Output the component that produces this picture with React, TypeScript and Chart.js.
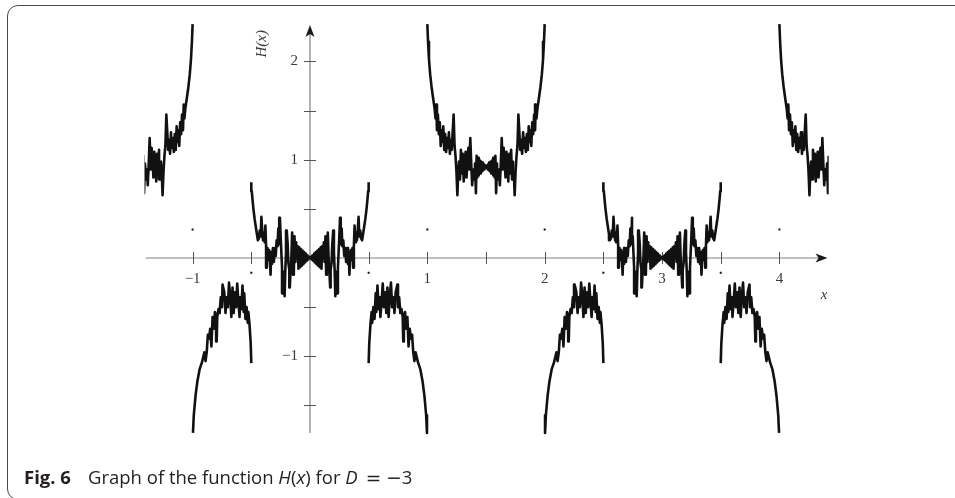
import React, { useEffect, useRef } from "react";
import { Chart, registerables } from "chart.js";

Chart.register(...registerables);

// Branch on (0, 0.5): bow-tie at the origin, jagged rise to ~0.77
const riseBranch: [number, number][] = [
  [0, 0], [0.008, 0.012], [0.014, -0.014], [0.022, 0.028], [0.028, -0.03], [0.036, 0.045],
  [0.042, -0.046], [0.05, 0.06], [0.056, -0.062], [0.064, 0.076], [0.07, -0.078], [0.078, 0.092],
  [0.084, -0.094], [0.092, 0.108], [0.098, -0.11], [0.104, 0.12], [0.11, 0.02], [0.118, 0.16],
  [0.124, -0.04], [0.132, 0.22], [0.138, -0.17], [0.144, 0.04], [0.152, 0.26], [0.158, 0.02],
  [0.164, -0.1], [0.172, -0.3], [0.176, -0.12], [0.184, -0.05], [0.19, 0.14], [0.198, 0.28],
  [0.204, 0.06], [0.21, -0.12], [0.216, -0.39], [0.224, -0.14], [0.232, -0.36], [0.238, -0.1],
  [0.244, 0.06], [0.25, 0.22], [0.256, 0.41], [0.262, 0.14], [0.27, 0.3], [0.276, 0.12],
  [0.284, 0.18], [0.292, 0.02], [0.3, 0.1], [0.308, -0.04], [0.316, 0.1], [0.324, -0.06],
  [0.33, 0.06], [0.336, -0.17], [0.342, 0.0], [0.348, 0.08], [0.356, -0.02], [0.362, 0.1],
  [0.368, -0.1], [0.374, 0.12], [0.38, 0.33], [0.386, 0.16], [0.392, 0.26], [0.4, 0.18],
  [0.408, 0.3], [0.414, 0.42], [0.42, 0.22], [0.428, 0.28], [0.436, 0.2], [0.444, 0.18],
  [0.452, 0.24], [0.462, 0.32], [0.472, 0.4], [0.482, 0.5], [0.49, 0.6], [0.496, 0.68], [0.5, 0.77],
];
// Branch on (0.5, 1): arch below the axis, falling to the pole at x = 1
const archBranch: [number, number][] = [
  [0.5, -1.07], [0.505, -0.87], [0.515, -0.68], [0.525, -0.55], [0.53, -0.66], [0.54, -0.5],
  [0.55, -0.62], [0.56, -0.36], [0.565, -0.55], [0.575, -0.28], [0.585, -0.52], [0.595, -0.4],
  [0.6, -0.6], [0.61, -0.45], [0.62, -0.26], [0.63, -0.5], [0.64, -0.35], [0.65, -0.56],
  [0.66, -0.3], [0.67, -0.6], [0.68, -0.38], [0.69, -0.25], [0.7, -0.5], [0.71, -0.4],
  [0.72, -0.56], [0.73, -0.35], [0.745, -0.27], [0.75, -0.5], [0.76, -0.4], [0.77, -0.56],
  [0.78, -0.52], [0.79, -0.6], [0.795, -0.85], [0.8, -0.6], [0.81, -0.55], [0.82, -0.72],
  [0.83, -0.6], [0.84, -0.9], [0.85, -0.72], [0.86, -0.82], [0.87, -0.78], [0.88, -0.96],
  [0.89, -1.05], [0.9, -0.96], [0.92, -1.06], [0.94, -1.13], [0.96, -1.26], [0.975, -1.4],
  [0.99, -1.6], [0.997, -1.78],
];
// Branch on (1, 1.5): from the pole at x = 1 down to the cross at (1.5, 0.92)
const poleBranch: [number, number][] = [
  [1.0, 2.38], [1.006, 2.2], [1.014, 2.02], [1.024, 1.87], [1.036, 1.74], [1.05, 1.62],
  [1.062, 1.52], [1.07, 1.42], [1.076, 1.56], [1.082, 1.3], [1.09, 1.46], [1.098, 1.26],
  [1.106, 1.38], [1.114, 1.14], [1.12, 1.3], [1.128, 1.18], [1.136, 1.34], [1.144, 1.1],
  [1.152, 1.26], [1.16, 1.08], [1.168, 1.22], [1.176, 1.12], [1.184, 1.28], [1.192, 1.06],
  [1.2, 1.2], [1.208, 1.1], [1.216, 1.28], [1.224, 1.46], [1.232, 1.14], [1.24, 1.04],
  [1.248, 0.88], [1.256, 0.64], [1.262, 0.84], [1.27, 0.98], [1.278, 0.8], [1.286, 1.1],
  [1.294, 0.86], [1.302, 1.06], [1.31, 0.78], [1.318, 0.96], [1.326, 1.08], [1.334, 0.82],
  [1.342, 1.0], [1.35, 1.12], [1.358, 0.9], [1.366, 1.22], [1.374, 0.96], [1.382, 0.74],
  [1.39, 0.9], [1.398, 0.8], [1.406, 0.96], [1.414, 0.66], [1.42, 1.04], [1.426, 0.82],
  [1.432, 1.02], [1.438, 0.84], [1.444, 1.0], [1.45, 0.86], [1.456, 0.985], [1.462, 0.875],
  [1.468, 0.97], [1.474, 0.89], [1.48, 0.955], [1.486, 0.9], [1.492, 0.94], [1.5, 0.92],
];
const PERIOD = 3;
// isolated points of the graph
const dotX = [-1, 1, 2, 4, -0.5, 0.5, 2.5, 3.5];
const dotY = [0.29, 0.29, 0.29, 0.29, -0.15, -0.15, -0.15, -0.15];
// axes
const xTicks = [-1, -0.5, 0.5, 1, 1.5, 2, 2.5, 3, 3.5, 4];
const xTickLabels = ["\u22121", "", "", "1", "", "2", "", "3", "", "4"];
const yTicks = [-1.5, -1, -0.5, 0.5, 1, 1.5, 2];
const yTickLabels = ["", "\u22121", "", "", "1", "", "2"];
const X_MIN = -1.41, X_MAX = 4.42, Y_MIN = -1.8, Y_MAX = 2.45;
const X_AXIS_FROM = -1.4, X_AXIS_TO = 4.41, Y_AXIS_FROM = -1.78, Y_AXIS_TO = 2.37;

const placements = [
  { dir: 1, shift: 0 },
  { dir: -1, shift: 0 },
  { dir: -1, shift: PERIOD },
  { dir: 1, shift: PERIOD },
];

const SERIF = "'Liberation Serif', 'DejaVu Serif', serif";
const SANS = "'Open Sans', 'Noto Sans', sans-serif";
const MATH = "'DejaVu Sans', sans-serif";

const axesPlugin = {
  id: "mathAxes",
  beforeDatasetsDraw(chart: any) {
    const { ctx, scales } = chart;
    const px = (v: number) => scales.x.getPixelForValue(v);
    const py = (v: number) => scales.y.getPixelForValue(v);
    const x0 = px(0), y0 = py(0);
    ctx.save();
    ctx.strokeStyle = "#808080";
    ctx.lineWidth = 1.2;
    ctx.beginPath();
    ctx.moveTo(px(X_AXIS_FROM), y0);
    ctx.lineTo(px(X_AXIS_TO) - 6, y0);
    ctx.moveTo(x0, py(Y_AXIS_FROM));
    ctx.lineTo(x0, py(Y_AXIS_TO) + 6);
    ctx.stroke();
    // arrows
    ctx.fillStyle = "#1a1a1a";
    const tx = px(X_AXIS_TO);
    ctx.beginPath();
    ctx.moveTo(tx, y0);
    ctx.lineTo(tx - 12, y0 - 4.5);
    ctx.lineTo(tx - 9, y0);
    ctx.lineTo(tx - 12, y0 + 4.5);
    ctx.closePath();
    ctx.fill();
    const ty = py(Y_AXIS_TO);
    ctx.beginPath();
    ctx.moveTo(x0, ty);
    ctx.lineTo(x0 - 4.5, ty + 12);
    ctx.lineTo(x0, ty + 9);
    ctx.lineTo(x0 + 4.5, ty + 12);
    ctx.closePath();
    ctx.fill();
    // ticks
    ctx.strokeStyle = "#555";
    ctx.lineWidth = 1;
    ctx.beginPath();
    xTicks.forEach((t) => {
      const p = Math.round(px(t)) + 0.5;
      ctx.moveTo(p, y0 - 6);
      ctx.lineTo(p, y0 + 6);
    });
    yTicks.forEach((t) => {
      const p = Math.round(py(t)) + 0.5;
      ctx.moveTo(x0 - 6, p);
      ctx.lineTo(x0 + 6, p);
    });
    ctx.stroke();
    // tick labels
    ctx.fillStyle = "#3a3a3a";
    ctx.font = `15px ${SERIF}`;
    ctx.textAlign = "center";
    ctx.textBaseline = "middle";
    xTicks.forEach((t, i) => {
      if (xTickLabels[i]) ctx.fillText(xTickLabels[i], px(t), y0 + 21);
    });
    ctx.textAlign = "right";
    yTicks.forEach((t, i) => {
      if (yTickLabels[i]) ctx.fillText(yTickLabels[i], x0 - 12, py(t));
    });
    // axis titles
    ctx.font = `italic 15px ${SERIF}`;
    ctx.textAlign = "center";
    ctx.fillText("x", px(4.38), y0 + 37);
    ctx.save();
    ctx.translate(x0 - 48, py(2.18));
    ctx.rotate(-Math.PI / 2);
    ctx.fillText("H(x)", 0, 0);
    ctx.restore();
    ctx.restore();
  },
  afterDraw(chart: any) {
    const { ctx } = chart;
    ctx.save();
    ctx.fillStyle = "#231f20";
    ctx.textBaseline = "alphabetic";
    ctx.textAlign = "left";
    const base = 484;
    const fs = 18.5;
    ctx.font = `bold ${fs}px ${SANS}`;
    ctx.fillText("Fig. 6", 24, base);
    const segs: [string, string, string, number][] = [
      ["Graph of the function ", "", SANS, 0],
      ["H", "italic ", SANS, 0],
      ["(", "", SANS, 0],
      ["x", "italic ", SANS, 0],
      [") for ", "", SANS, 0],
      ["D", "italic ", SANS, 8],
      ["=", "", MATH, 5],
      ["\u2212", "", MATH, 0],
      ["3", "", SANS, 0],
    ];
    let cx = 88;
    segs.forEach(([t, st, fam, gapAfter]) => {
      ctx.font = `${st}${fs}px ${fam}`;
      ctx.fillText(t, cx, base);
      cx += ctx.measureText(t).width + gapAfter;
    });
    ctx.restore();
  },
};

export default function App() {
  const ref = useRef<HTMLCanvasElement>(null);
  useEffect(() => {
    const curveSets = placements.flatMap((p) =>
      [riseBranch, archBranch, poleBranch].map((b) => ({
        type: "scatter" as const,
        showLine: true,
        data: b.map(([bx, by]) => ({ x: p.shift + p.dir * bx, y: by })),
        borderColor: "#111",
        borderWidth: 2.6,
        borderJoinStyle: "round" as const,
        pointRadius: 0,
        tension: 0,
      }))
    );
    const dotSet = {
      type: "scatter" as const,
      showLine: false,
      data: dotX.map((x, i) => ({ x, y: dotY[i] })),
      pointStyle: "rect" as const,
      pointRadius: 1.4,
      backgroundColor: "#111",
      borderColor: "#111",
      borderWidth: 0,
    };
    const chart = new Chart(ref.current as HTMLCanvasElement, {
      type: "scatter",
      data: { datasets: [...curveSets, dotSet] as any },
      options: {
        animation: false,
        responsive: false,
        events: [],
        layout: { padding: { left: 144.5, right: 126.3, top: 17.2, bottom: 63.1 } },
        plugins: { legend: { display: false }, tooltip: { enabled: false } },
        scales: {
          x: { type: "linear", min: X_MIN, max: X_MAX, display: false },
          y: { type: "linear", min: Y_MIN, max: Y_MAX, display: false },
        },
      },
      plugins: [axesPlugin],
    });
    return () => chart.destroy();
  }, []);
  return (
    <div
      style={{
        position: "fixed",
        left: 0,
        top: 0,
        width: 955,
        height: 498,
        overflow: "hidden",
        background: "#fff",
      }}
    >
      <div
        style={{
          position: "absolute",
          left: 7,
          top: 5,
          width: 990,
          height: 495,
          border: "1px solid #4a4a4a",
          borderRadius: 11,
          boxSizing: "border-box",
        }}
      />
      <canvas
        ref={ref}
        width={955}
        height={498}
        style={{ position: "absolute", left: 0, top: 0, width: 955, height: 498 }}
      />
    </div>
  );
}
